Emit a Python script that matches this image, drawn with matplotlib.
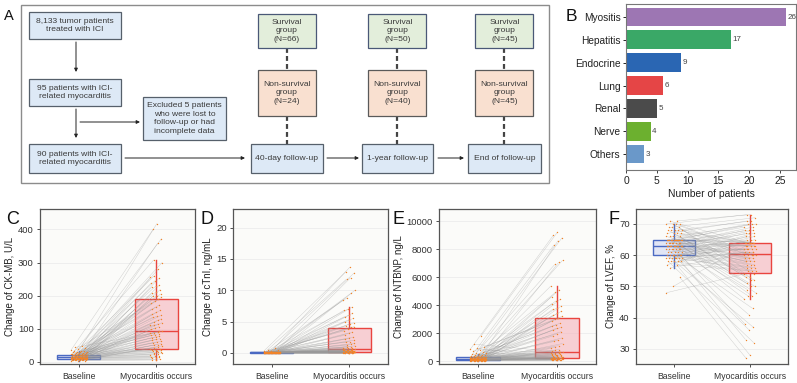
import numpy as np
import matplotlib
matplotlib.use("Agg")
import matplotlib.pyplot as plt
from matplotlib.patches import Rectangle
from matplotlib.collections import LineCollection

plt.rcParams['font.family'] = ['Liberation Sans', 'DejaVu Sans']

# ---------------- data ----------------
irae_categories = ["Myositis", "Hepatitis", "Endocrine", "Lung", "Renal", "Nerve", "Others"]
irae_counts = [26, 17, 9, 6, 5, 4, 3]
irae_colors = ["#9d76b3", "#3aa867", "#2a66b3", "#e54546", "#4b4b4b", "#6cb02f", "#6a98c9"]

group_labels = ["Baseline", "Myocarditis occurs"]

ckmb_baseline = [2, 3, 3, 4, 4, 5, 5, 5, 6, 6, 6, 6, 7, 7, 7, 7, 8, 8, 8, 8, 8, 8,
                 9, 9, 9, 9, 10, 10, 10, 10, 10, 11, 11, 11, 11, 11, 12, 12, 12, 12, 12, 12, 13, 13, 13,
                 13, 14, 14, 14, 15, 15, 15, 16, 16, 16, 17, 17, 18, 18, 18, 19, 19, 20, 20, 20, 21, 21,
                 21, 22, 22, 23, 23, 24, 24, 25, 25, 26, 27, 28, 28, 29, 30, 31, 32, 33, 35, 38, 40, 43, 47]
ckmb_myocarditis = [39, 190, 5, 94, 42, 195, 6, 98, 45, 198, 8, 102, 48, 200, 10, 106,
                    50, 205, 12, 110, 52, 208, 14, 112, 55, 212, 15, 115, 57, 218, 17, 118,
                    60, 225, 18, 120, 62, 228, 20, 125, 65, 232, 22, 130, 68, 238, 24, 135,
                    70, 245, 25, 138, 72, 252, 27, 140, 75, 255, 28, 145, 78, 260, 30, 150,
                    80, 280, 31, 155, 82, 300, 33, 160, 85, 308, 34, 165, 87, 358, 35, 172,
                    88, 372, 36, 178, 90, 400, 38, 183, 92, 418]

ctni_baseline = [0.01] * 10 + [0.02] * 12 + [0.03] * 12 + [0.04] * 10 + [0.05] * 8 + [0.06] * 7 + \
                [0.07] * 6 + [0.08] * 5 + [0.10] * 5 + [0.12] * 4 + [0.15] * 3 + [0.20] * 3 + \
                [0.30] * 2 + [0.50] * 2 + [0.80]
ctni_myocarditis = [0.11, 4.1, 0.01, 0.57, 0.12, 4.2, 0.01, 0.62, 0.13, 4.3, 0.02, 0.70,
                    0.15, 4.6, 0.02, 0.75, 0.16, 4.8, 0.02, 0.82, 0.18, 5.0, 0.03, 0.90,
                    0.20, 5.3, 0.03, 1.0, 0.21, 5.5, 0.03, 1.1, 0.23, 5.8, 0.04, 1.2,
                    0.25, 6.0, 0.04, 1.35, 0.27, 6.3, 0.05, 1.5, 0.28, 6.8, 0.05, 1.7,
                    0.30, 7.0, 0.05, 1.8, 0.32, 7.3, 0.06, 2.0, 0.34, 8.5, 0.06, 2.2,
                    0.36, 8.8, 0.07, 2.3, 0.38, 9.5, 0.07, 2.5, 0.40, 10.0, 0.08, 2.8,
                    0.42, 11.8, 0.08, 3.1, 0.45, 12.0, 0.09, 3.3, 0.48, 12.8, 0.09, 3.5,
                    0.50, 13.0, 0.10, 3.8, 0.53, 13.7]

ntbnp_baseline = [10, 15, 18, 20, 22, 25, 28, 30, 33, 35, 38, 40, 42, 45, 48, 50, 53, 55, 58, 60, 63, 67,
                  70, 72, 75, 78, 80, 84, 88, 90, 95, 98, 100, 105, 108, 112, 115, 120, 125, 128, 132, 136, 140, 145, 148,
                  152, 158, 162, 168, 172, 178, 185, 190, 198, 205, 210, 215, 222, 228, 235, 240, 248, 255, 260, 265, 270, 276,
                  285, 295, 305, 320, 330, 345, 360, 380, 400, 420, 450, 480, 500, 540, 600, 650, 700, 800, 850, 900, 1000, 1200, 1800]
ntbnp_myocarditis = [215, 3100, 40, 650, 225, 3200, 55, 700, 240, 3300, 65, 760,
                     255, 3400, 80, 820, 270, 3550, 90, 900, 285, 3700, 100, 1000,
                     300, 3800, 110, 1100, 320, 3900, 118, 1250, 340, 4100, 125, 1400,
                     360, 4300, 130, 1500, 380, 4400, 138, 1650, 400, 4600, 145, 1800,
                     420, 4900, 150, 1950, 440, 5100, 158, 2100, 460, 5360, 165, 2200,
                     480, 6900, 170, 2350, 500, 7050, 175, 2400, 520, 7200, 180, 2500,
                     545, 8300, 188, 2600, 570, 8600, 195, 2700, 590, 8800, 200, 2850,
                     610, 9000, 205, 3000, 630, 9200]

lvef_baseline = [48, 50, 53, 56, 57, 57, 58, 58, 58, 58, 58, 59, 59, 59, 59, 59, 59, 59, 60, 60, 60, 60,
                 60, 60, 60, 61, 61, 61, 61, 61, 62, 62, 62, 62, 62, 62, 62, 63, 63, 63, 63, 63, 63, 63, 63,
                 63, 63, 64, 64, 64, 64, 64, 64, 64, 64, 65, 65, 65, 65, 65, 65, 65, 65, 65, 65, 65, 65,
                 65, 66, 66, 66, 66, 67, 67, 67, 67, 68, 68, 68, 68, 68, 69, 69, 69, 70, 70, 70, 70, 71, 71]
lvef_myocarditis = [54, 64, 27, 61, 55, 65, 28, 61, 55, 65, 32, 61, 55, 65, 33, 61,
                    56, 66, 36, 62, 56, 66, 37, 62, 56, 66, 38, 62, 57, 67, 41, 62,
                    57, 67, 43, 62, 57, 67, 46, 63, 58, 68, 47, 63, 58, 68, 47, 63,
                    58, 68, 48, 63, 58, 69, 49, 63, 59, 69, 50, 63, 59, 70, 50, 64,
                    59, 70, 51, 64, 59, 70, 52, 64, 60, 71, 52, 64, 60, 71, 53, 64,
                    60, 72, 53, 64, 60, 73, 54, 64, 60, 73]

# ---------------- figure ----------------
W, H = 797, 383
fig = plt.figure(figsize=(W / 100, H / 100), dpi=100)


def frac_rect(left, top, right, bottom):
    return [left / W, 1 - bottom / H, (right - left) / W, (bottom - top) / H]


# ---- Panel A: flowchart (pixel coordinate canvas) ----
axA = fig.add_axes([0, 0, 1, 1])
axA.set_xlim(0, W)
axA.set_ylim(H, 0)
axA.axis('off')
axA.patch.set_visible(False)

TXT = '#3a3a3a'
BLUE = '#dde9f6'
GREEN = '#e3eedb'
PEACH = '#f9e0d0'
EDGE = '#56606b'

axA.add_patch(Rectangle((21, 5), 528, 178, fc='white', ec='#8c8c8c', lw=1.0))


def fbox(x0, y0, x1, y1, text, fc, ec=EDGE):
    axA.add_patch(Rectangle((x0, y0), x1 - x0, y1 - y0, fc=fc, ec=ec, lw=0.9, zorder=2))
    axA.text((x0 + x1) / 2, (y0 + y1) / 2, text, ha='center', va='center',
             fontsize=6.1, color=TXT, linespacing=1.35, zorder=3)


def arrow(x0, y0, x1, y1):
    axA.annotate('', xy=(x1, y1), xytext=(x0, y0),
                 arrowprops=dict(arrowstyle='-|>', color='#222222', lw=0.7,
                                 mutation_scale=5, shrinkA=0, shrinkB=0), zorder=2)


def dashed(x, y0, y1):
    axA.plot([x, x], [y0, y1], color='#444444', lw=1.6, dashes=(2.2, 1.4), zorder=1)


fbox(29, 12, 121, 39, "8,133 tumor patients\ntreated with ICI", BLUE)
fbox(29, 79, 121, 106, "95 patients with ICI-\nrelated myocarditis", BLUE)
fbox(143, 97, 226, 140, "Excluded 5 patients\nwho were lost to\nfollow-up or had\nincomplete data", BLUE)
fbox(29, 144, 121, 173, "90 patients with ICI-\nrelated myocarditis", BLUE)
arrow(76, 42, 76, 72)
arrow(76, 109, 76, 138)
arrow(80, 122, 140, 122)
arrow(125, 158, 245, 158)

stages = [(251, 323, "40-day follow-up", "66", "24"),
          (362, 433, "1-year follow-up", "50", "40"),
          (468, 541, "End of follow-up", "45", "45")]
for i, (x0, x1, lab, ns, nn) in enumerate(stages):
    cx = (x0 + x1) / 2
    sx0, sx1 = cx - 29, cx + 29
    dashed(cx, 48, 70)
    dashed(cx, 116, 144)
    fbox(sx0, 14, sx1, 48, "Survival\ngroup\n(N=%s)" % ns, GREEN, ec='#4a5877')
    fbox(sx0, 70, sx1, 116, "Non-survival\ngroup\n(N=%s)" % nn, PEACH, ec='#5a5a5a')
    fbox(x0, 144, x1, 173, lab, BLUE)
arrow(327, 158, 359, 158)
arrow(438, 158, 464, 158)

# ---- Panel B: bar chart ----
axB = fig.add_axes(frac_rect(626, 4, 796, 170))
ypos = np.arange(len(irae_categories))
axB.barh(ypos, irae_counts, height=0.82, color=irae_colors, zorder=2)
for y, v in zip(ypos, irae_counts):
    axB.text(v + 0.25, y, str(v), va='center', ha='left', fontsize=5.8, color='#444444')
axB.set_yticks(ypos)
axB.set_yticklabels(irae_categories, fontsize=7.3, color='#222222')
axB.set_ylim(6.7, -0.57)
axB.set_xlim(0, 27.6)
axB.set_xticks([0, 5, 10, 15, 20, 25])
axB.tick_params(axis='x', labelsize=7.4, colors='#222222', length=2.5, width=0.6, pad=2)
axB.tick_params(axis='y', length=2, width=0.6, pad=2)
axB.set_xlabel("Number of patients", fontsize=7.4, color='#222222', labelpad=2)
for s in axB.spines.values():
    s.set_color('#777777')
    s.set_linewidth(0.8)


# ---- Panels C-F: paired box plots ----
def pair_panel(rect, base, myo, ylim, yticks, ylabel):
    ax = fig.add_axes(rect)
    ax.set_facecolor('#fbfbf9')
    base = np.asarray(base, float)
    myo = np.asarray(myo, float)
    n = len(base)
    idx = np.arange(n)
    jx1 = 1 + ((idx * 7) % 17 - 8) / 8 * 0.10
    jx2 = 2 + ((idx * 11) % 19 - 9) / 9 * 0.075
    ax.set_yticks(yticks)
    ax.grid(axis='y', color='#ececec', lw=0.6)
    ax.set_axisbelow(True)
    bp = ax.boxplot([base, myo], positions=[1, 2], widths=0.56, whis=1.0,
                    showfliers=False, showcaps=False, patch_artist=True, zorder=2)
    cols = ['#4a69c2', '#e9453f']
    fills = [(0.80, 0.83, 0.95, 0.55), (0.96, 0.72, 0.75, 0.65)]
    for k in range(2):
        bp['boxes'][k].set_facecolor(fills[k])
        bp['boxes'][k].set_edgecolor(cols[k])
        bp['boxes'][k].set_linewidth(1.0)
        bp['medians'][k].set_color(cols[k])
        bp['medians'][k].set_linewidth(1.0)
        for w in bp['whiskers'][2 * k:2 * k + 2]:
            w.set_color(cols[k])
            w.set_linewidth(1.0)
    segs = np.stack([np.column_stack([jx1, base]), np.column_stack([jx2, myo])], axis=1)
    ax.add_collection(LineCollection(segs, colors='#999999', linewidths=0.3, alpha=0.5, zorder=3))
    ax.scatter(jx1, base, s=1.0, c='#f0842a', lw=0, zorder=4)
    ax.scatter(jx2, myo, s=1.0, c='#f0842a', lw=0, zorder=4)
    ax.set_xlim(0.5, 2.5)
    ax.set_ylim(*ylim)
    ax.set_xticks([1, 2])
    ax.set_xticklabels(group_labels)
    ax.tick_params(axis='x', labelsize=6.2, colors='#333333', length=2.5, width=0.6, pad=3)
    ax.tick_params(axis='y', labelsize=6.8, colors='#333333', length=2.5, width=0.6, pad=2)
    ax.set_ylabel(ylabel, fontsize=7.0, color='#222222', labelpad=2)
    for s in ax.spines.values():
        s.set_color('#555555')
        s.set_linewidth(0.9)
    return ax


pair_panel(frac_rect(40, 209, 195, 364), ckmb_baseline, ckmb_myocarditis,
           (-7, 462), [0, 100, 200, 300, 400], "Change of CK-MB, U/L")
pair_panel(frac_rect(233, 209, 388, 364), ctni_baseline, ctni_myocarditis,
           (-1.8, 23), [0, 5, 10, 15, 20], "Change of cTnI, ng/mL")
pair_panel(frac_rect(439, 209, 596, 364), ntbnp_baseline, ntbnp_myocarditis,
           (-214, 10860), [0, 2000, 4000, 6000, 8000, 10000], "Change of NTBNP, ng/L")
pair_panel(frac_rect(636, 209, 788, 364), lvef_baseline, lvef_myocarditis,
           (25.2, 74.8), [30, 40, 50, 60, 70], "Change of LVEF, %")

# ---- panel letters ----
for lab, x, y, fs in [("A", 4, 20, 10.5), ("B", 566, 21, 12.5), ("C", 6, 224, 13),
                      ("D", 201, 224, 13), ("E", 393, 224, 13), ("F", 609, 224, 13)]:
    fig.text(x / W, 1 - y / H, lab, fontsize=fs, color='#111111', va='baseline', ha='left')

fig.savefig("out.png", dpi=100)
